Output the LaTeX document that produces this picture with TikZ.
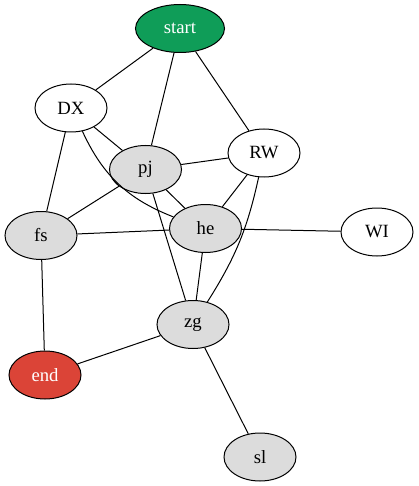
\documentclass[tikz,border=0pt]{standalone}
\usepackage{fontspec}
\setmainfont{Liberation Serif}
\usetikzlibrary{shapes.geometric}
\definecolor{startgreen}{RGB}{15,157,88}
\definecolor{endred}{RGB}{219,68,55}
\definecolor{nodegray}{RGB}{220,220,220}
\begin{document}
\begin{tikzpicture}[x=1pt,y=-1pt,
  vertex/.style={draw=black, line width=1pt, ellipse, minimum width=72pt, minimum height=48pt,
    inner sep=0pt, fill=white, font=\fontsize{18.7}{22}\selectfont},
  grayv/.style={vertex, fill=nodegray},
  link/.style={draw=black, line width=1pt}]
\useasboundingbox (0,0) rectangle (419,486);
% nodes
\node[vertex, fill=startgreen, text=white, minimum width=89pt] (start) at (180,28.5) {start};
\node[vertex] (DX) at (71,108) {DX};
\node[vertex] (RW) at (264,153) {RW};
\node[grayv] (pj) at (145.5,169.5) {pj};
\node[grayv] (fs) at (41,235.5) {fs};
\node[grayv] (he) at (205.5,228.5) {he};
\node[vertex] (WI) at (377,232) {WI};
\node[grayv] (zg) at (193,324.5) {zg};
\node[vertex, fill=endred, text=white] (end) at (45,375) {end};
\node[grayv] (sl) at (260,457) {sl};
% connectors
\draw[link] (start) -- (DX);
\draw[link] (start) -- (pj);
\draw[link] (start) -- (RW);
\draw[link] (DX) -- (pj);
\draw[link] (DX) to[bend right=22] (he);
\draw[link] (DX) -- (fs);
\draw[link] (pj) -- (RW);
\draw[link] (pj) -- (he);
\draw[link] (pj) -- (fs);
\draw[link] (pj) -- (zg);
\draw[link] (RW) -- (he);
\draw[link] (RW) to[bend left=10] (zg);
\draw[link] (fs) -- (he);
\draw[link] (fs) -- (end);
\draw[link] (he) -- (WI);
\draw[link] (he) -- (zg);
\draw[link] (zg) -- (end);
\draw[link] (zg) -- (sl);
\end{tikzpicture}
\end{document}
